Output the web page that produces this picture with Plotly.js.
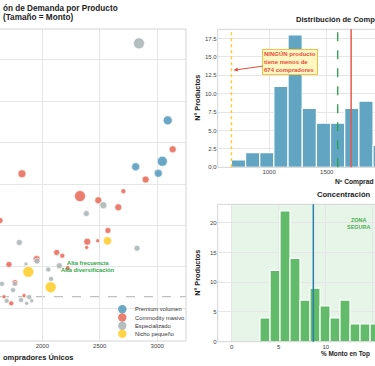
<!DOCTYPE html>
<html><head><meta charset="utf-8">
<script src="https://cdn.plot.ly/plotly-3.0.1.min.js"></script>
<style>html,body{margin:0;padding:0;background:#fff}#chart{width:375px;height:366px}</style>
</head><body><div id="chart"></div>
<script>
// ---------- DATA ----------
const categorias = ['Premium volumen', 'Commodity masivo', 'Especializado', 'Nicho pequeño'];

const premiumCompradores = [3091, 2812, 3044, 3009];
const premiumFrecuencia  = [55.4, 44.2, 45.5, 42.6];
const premiumMonto       = [2700, 2400, 3000, 2400];

const commodityCompradores = [3134, 2899, 1823, 2705, 2328, 2487, 2661, 1632, 2571, 2391, 2482, 2386, 2125, 2174, 1951, 1710, 2221, 1762, 1841, 1667, 1730];
const commodityFrecuencia  = [48.4, 41.1, 42.5, 38.3, 37.1, 36.1, 34.4, 31.2, 28.8, 26.1, 26.3, 24.7, 23.5, 22.7, 21.9, 20.6, 19.7, 16.2, 13.1, 12.8, 11.2];
const commodityMonto       = [2100, 2100, 2400, 1500, 3300, 2100, 2100, 1800, 1800, 2100, 1200, 1200, 1800, 1500, 2100, 1800, 1500, 1800, 1200, 1200, 1500];

const especialCompradores = [2841, 2531, 2383, 2824, 1800, 1858, 1954, 2148, 2052, 2076, 1649, 1762, 1745, 1887, 1690, 1815, 1864, 1908];
const especialFrecuencia  = [74.0, 34.9, 32.9, 24.5, 25.9, 20.7, 21.4, 20.3, 19.4, 17.1, 15.9, 15.9, 14.4, 12.7, 11.8, 12.0, 11.2, 11.8];
const especialMonto       = [3300, 2100, 1800, 1800, 1800, 1200, 1800, 1800, 1500, 1500, 1500, 1500, 1500, 1500, 1500, 1500, 1200, 1200];

const nichoCompradores = [2567, 1878, 2073];
const nichoFrecuencia  = [26.3, 18.8, 15.1];
const nichoMonto       = [2500, 3300, 3300];

const medianaFrecuencia = 12.8;

// Histogram: Nº compradores únicos (bin centres, counts)
const compradoresBinCentros = [735, 858, 981, 1103, 1226, 1349, 1472, 1594, 1717, 1840, 1962];
const compradoresConteo     = [1, 2, 2, 11, 18, 8, 6, 6, 8, 9, 3];
const compradoresAnchoBin   = 122.7;
const minCompradores = 674;
const medianaCompradores = 1595;
const mediaCompradores = 1711;

// Histogram: % monto en top clientes
const concentracionBinCentros = [3.54, 4.61, 5.67, 6.73, 7.80, 8.86, 9.93, 10.99, 12.05, 13.12, 14.18, 15.25];
const concentracionConteo     = [4, 12, 22, 14, 7, 9, 6, 4, 7, 3, 3, 3];
const concentracionAnchoBin   = 1.064;
const mediaConcentracion = 8.68;
const zonaSeguraMax = 20;

// ---------- STYLE ----------
const FONT = 'Liberation Sans, Arial, Helvetica, sans-serif';
const colores = ['#5a9ec0', '#e8705f', '#adb7b8', '#ffcf33'];
const W = 375, H = 366;
const px = v => v / W;
const py = v => 1 - v / H;
const GRID = '#e6e6e6', FRAME = '#d4d4d4', TICK = '#444', DARK = '#222';

function bubble(x, y, m, i) {
  return {
    type: 'scatter', mode: 'markers', x: x, y: y, xaxis: 'x', yaxis: 'y',
    name: categorias[i], hoverinfo: 'skip',
    marker: { size: m, sizemode: 'diameter', sizeref: 300, color: colores[i], opacity: 0.9,
              line: { color: '#ffffff', width: 0.6 } }
  };
}

const data = [
  bubble(premiumCompradores, premiumFrecuencia, premiumMonto, 0),
  bubble(commodityCompradores, commodityFrecuencia, commodityMonto, 1),
  bubble(especialCompradores, especialFrecuencia, especialMonto, 2),
  bubble(nichoCompradores, nichoFrecuencia, nichoMonto, 3),
  { type: 'bar', x: compradoresBinCentros, y: compradoresConteo, width: compradoresAnchoBin,
    xaxis: 'x2', yaxis: 'y2', hoverinfo: 'skip',
    marker: { color: '#62a5c3', line: { color: '#ffffff', width: 1.2 } } },
  { type: 'bar', x: concentracionBinCentros, y: concentracionConteo, width: concentracionAnchoBin,
    xaxis: 'x3', yaxis: 'y3', hoverinfo: 'skip',
    marker: { color: '#62bb6a', line: { color: '#ffffff', width: 1.2 } } }
];

const axBase = { showgrid: true, gridcolor: GRID, gridwidth: 1, zeroline: false, showline: false,
                 ticks: '', tickfont: { size: 6, color: TICK, family: FONT } };

const shapes = [
  { type: 'rect', xref: 'x domain', yref: 'y domain', x0: -0.2, x1: 1, y0: 0, y1: 1, line: { color: FRAME, width: 1 }, layer: 'above' },
  { type: 'rect', xref: 'x2 domain', yref: 'y2 domain', x0: 0, x1: 1.2, y0: 0, y1: 1, line: { color: FRAME, width: 1 }, layer: 'above' },
  { type: 'rect', xref: 'x3 domain', yref: 'y3 domain', x0: 0, x1: 1.2, y0: 0, y1: 1, line: { color: FRAME, width: 1 }, layer: 'above' },
  { type: 'line', xref: 'x domain', yref: 'y', x0: 0, x1: 1, y0: medianaFrecuencia, y1: medianaFrecuencia,
    line: { color: '#9a9a9a', width: 0.8, dash: 'dash' }, layer: 'below' },
  { type: 'line', xref: 'x2', yref: 'y2 domain', x0: minCompradores, x1: minCompradores, y0: 0, y1: 1,
    line: { color: '#ffc933', width: 1.5, dash: 'dot' } },
  { type: 'line', xref: 'x2', yref: 'y2 domain', x0: medianaCompradores, x1: medianaCompradores, y0: 0, y1: 1,
    line: { color: '#27a048', width: 1.3, dash: 'dash' } },
  { type: 'line', xref: 'x2', yref: 'y2 domain', x0: mediaCompradores, x1: mediaCompradores, y0: 0, y1: 1,
    line: { color: '#e35a4a', width: 1.5 } },
  { type: 'rect', xref: 'x3', yref: 'y3 domain', x0: 0, x1: zonaSeguraMax, y0: 0, y1: 1,
    fillcolor: '#e7f5e9', line: { width: 0 }, layer: 'below' },
  { type: 'line', xref: 'x3', yref: 'y3 domain', x0: mediaConcentracion, x1: mediaConcentracion, y0: 0, y1: 1,
    line: { color: '#2a7fab', width: 1.5 } }
];

const legendRows = [309.3, 317.5, 325.7, 333.8];
categorias.forEach((c, i) => {
  shapes.push({ type: 'circle', xref: 'paper', yref: 'paper', xsizemode: 'pixel', ysizemode: 'pixel',
    xanchor: px(122.3), yanchor: py(legendRows[i]), x0: -4.2, x1: 4.2, y0: -4.2, y1: 4.2,
    fillcolor: colores[i], opacity: 0.9, line: { width: 0 }, layer: 'above' });
});

function txt(text, x, y, o) {
  return Object.assign({ text: text, xref: 'paper', yref: 'paper', x: px(x), y: py(y), showarrow: false,
    xanchor: 'left', yanchor: 'middle', font: { family: FONT, size: 6, color: DARK } }, o || {});
}

const annotations = [
  txt('<b>ón de Demanda por Producto</b>', 0.5, 8.2, { font: { family: FONT, size: 8.2, color: DARK } }),
  txt('<b>(Tamaño = Monto)</b>', 1, 17.5, { font: { family: FONT, size: 8.2, color: DARK } }),
  txt('<b>ompradores Únicos</b>', 0.5, 357, { font: { family: FONT, size: 7.5, color: DARK } }),
  txt('<b>Alta frecuencia</b>', 87.5, 263.3, { xanchor: 'center', font: { family: FONT, size: 5.8, color: '#2eaa48' } }),
  txt('<b>Alta diversificación</b>', 87.5, 269.5, { xanchor: 'center', font: { family: FONT, size: 5.8, color: '#2eaa48' } }),

  txt('<b>Distribución de Comp</b>', 294, 20, { font: { family: FONT, size: 7.6, color: DARK } }),
  txt('<b>Nº Comprad</b>', 332.7, 181.5, { font: { family: FONT, size: 6.7, color: DARK } }),
  txt('<b>Nº Productos</b>', 196.7, 98, { xanchor: 'center', textangle: -90, font: { family: FONT, size: 7.3, color: DARK } }),
  { text: '<b>NINGÚN producto<br>tiene menos de<br>674 compradores</b>', xref: 'x2', yref: 'y2',
    x: 694, y: 13.2, ax: 56.4, ay: -7.8, showarrow: true, arrowhead: 2, arrowsize: 0.8, arrowwidth: 1,
    arrowcolor: '#e74c3c', font: { family: FONT, size: 6, color: '#e74c3c' }, align: 'left',
    bgcolor: '#fff7c2', bordercolor: '#f5c242', borderwidth: 1, borderpad: 1 },

  txt('<b>Concentración</b>', 315, 194.3, { font: { family: FONT, size: 7.6, color: DARK } }),
  txt('<b>% Monto en Top</b>', 319.3, 354.2, { font: { family: FONT, size: 6.4, color: DARK } }),
  txt('<b>Nº Productos</b>', 196.7, 273, { xanchor: 'center', textangle: -90, font: { family: FONT, size: 7.3, color: DARK } }),
  txt('<b>ZONA<br>SEGURA</b>', 373, 223.7, { xanchor: 'right', align: 'center', font: { family: FONT, size: 5.5, color: '#4cae50' } })
];

categorias.forEach((c, i) => {
  annotations.push(txt(c, 132.7, legendRows[i], { font: { family: FONT, size: 5.8, color: '#333' } }));
});

const layout = {
  width: W, height: H, margin: { l: 0, r: 0, t: 0, b: 0 },
  paper_bgcolor: '#ffffff', plot_bgcolor: '#ffffff', showlegend: false,
  font: { family: FONT, size: 6, color: TICK }, bargap: 0,
  xaxis: Object.assign({}, axBase, { domain: [0, px(186)], range: [1632, 3250], dtick: 500, tick0: 0, anchor: 'y' }),
  yaxis: Object.assign({}, axBase, { domain: [py(341), py(29)], range: [2.1, 77.47], dtick: 10, tick0: 0, showticklabels: false, anchor: 'x' }),
  xaxis2: Object.assign({}, axBase, { domain: [px(217.7), 1], range: [555, 1918], dtick: 500, tick0: 0, anchor: 'y2' }),
  yaxis2: Object.assign({}, axBase, { domain: [py(167.3), py(29.3)], range: [0, 18.75], dtick: 2.5, tick0: 0, tickformat: '.1f', anchor: 'x2' }),
  xaxis3: Object.assign({}, axBase, { domain: [px(217.7), 1], range: [-1.49, 15.24], dtick: 5, tick0: 0, anchor: 'y3' }),
  yaxis3: Object.assign({}, axBase, { domain: [py(341.7), py(204.3)], range: [0, 23.1], dtick: 5, tick0: 0, anchor: 'x3' }),
  shapes: shapes,
  annotations: annotations
};

Plotly.newPlot('chart', data, layout, { staticPlot: true, displayModeBar: false });
</script>
</body></html>
